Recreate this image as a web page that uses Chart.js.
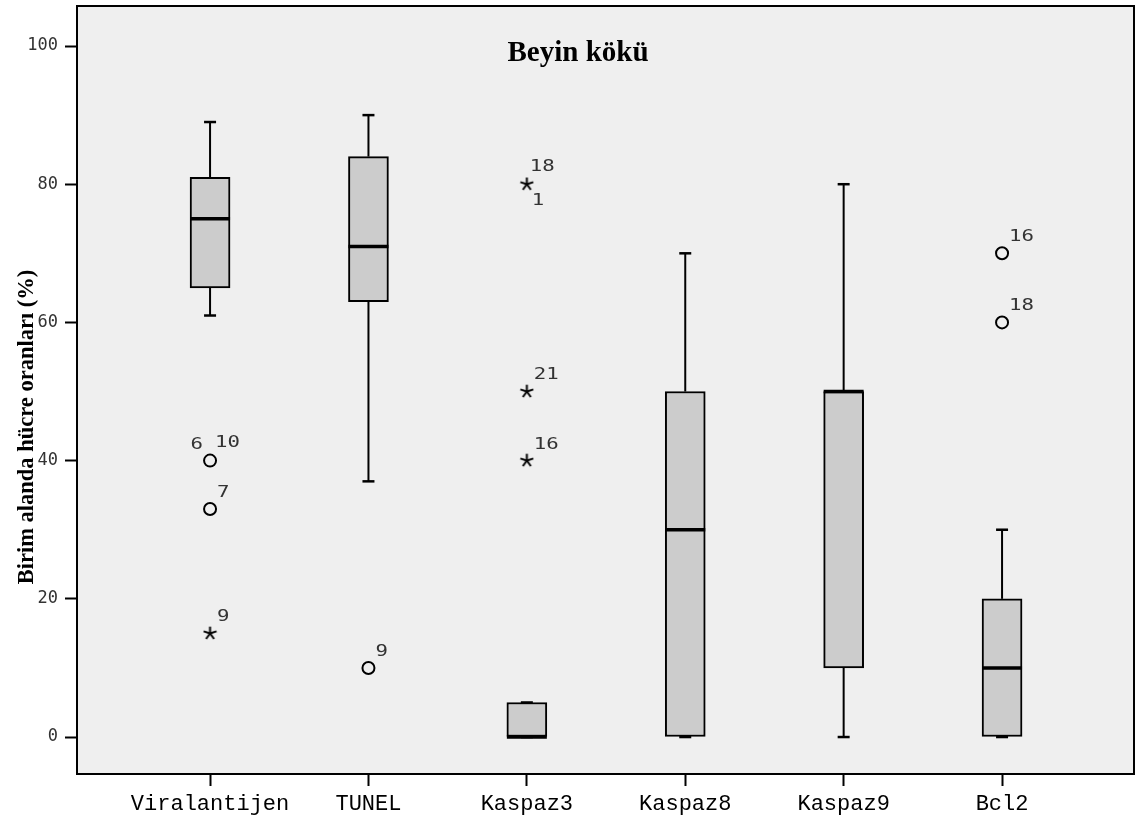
<!DOCTYPE html>
<html>
<head>
<meta charset="utf-8">
<script src="https://cdn.jsdelivr.net/npm/chart.js@4.4.1/dist/chart.umd.min.js"></script>
<style>
  html, body { margin: 0; padding: 0; background: #ffffff; }
  #wrap { width: 1135px; height: 822px; position: relative; }
</style>
</head>
<body>
<div id="wrap"><canvas id="c" width="1135" height="822"></canvas></div>
<script>
// ---- data ----
const chartTitle = 'Beyin kökü';
const yAxisTitle = 'Birim alanda hücre oranları (%)';
const categories = ['Viralantijen', 'TUNEL', 'Kaspaz3', 'Kaspaz8', 'Kaspaz9', 'Bcl2'];
const whiskerLow  = [61, 37, 0, 0, 0, 0];
const quartile1   = [65, 63, 0, 0, 10, 0];
const medians     = [75, 71, 0, 30, 50, 10];
const quartile3   = [81, 84, 5, 50, 50, 20];
const whiskerHigh = [89, 90, 5, 70, 80, 30];
// outliers (circle) : category index (1-based), value, case labels
const circleCat    = [1, 1, 2, 6, 6];
const circleValue  = [40, 33, 10, 70, 60];
const circleLabels = [['6', '10'], ['7'], ['9'], ['16'], ['18']];
// extremes (star)
const starCat    = [1, 3, 3, 3];
const starValue  = [15, 80, 50, 40];
const starLabels = [['9'], ['18', '1'], ['21'], ['16']];
const yTicks = [0, 20, 40, 60, 80, 100];

// ---- star marker image ----
function makeStar() {
  const c = document.createElement('canvas');
  c.width = 15; c.height = 15;
  const g = c.getContext('2d');
  g.strokeStyle = '#000';
  g.lineWidth = 2;
  g.lineCap = 'butt';
  const cx = 7.5, cy = 7.5, r = 6.8;
  for (let k = 0; k < 5; k++) {
    const a = -Math.PI / 2 + k * 2 * Math.PI / 5;
    g.beginPath();
    g.moveTo(cx, cy);
    g.lineTo(cx + r * Math.cos(a), cy + r * Math.sin(a));
    g.stroke();
  }
  return c;
}
const starImg = makeStar();

const boxData = categories.map((c, i) => ({ x: i + 1, y: [quartile1[i], quartile3[i]] }));
const circleData = circleCat.map((c, i) => ({ x: c, y: circleValue[i] }));
const starData = starCat.map((c, i) => ({ x: c, y: starValue[i] }));

// draw a horizontally widened monospace label (the reference digits are wide)
function wideText(ctx, text, x, y, align) {
  const sx = 1.38;
  const w = ctx.measureText(text).width * sx;
  const left = align === 'right' ? x - w : x;
  ctx.save();
  ctx.translate(left, y);
  ctx.scale(sx, 1);
  ctx.textAlign = 'left';
  ctx.fillText(text, 0, 0);
  ctx.restore();
}

const boxPlugin = {
  id: 'boxExtras',
  beforeDraw(chart) {
    const { ctx, chartArea: a } = chart;
    ctx.save();
    ctx.fillStyle = '#efefef';
    ctx.fillRect(a.left, a.top, a.right - a.left, a.bottom - a.top);
    ctx.restore();
  },
  beforeDatasetsDraw(chart) {
    // whiskers
    const { ctx } = chart;
    const xs = chart.scales.x, ys = chart.scales.y;
    ctx.save();
    ctx.strokeStyle = '#000';
    ctx.lineWidth = 2;
    categories.forEach((c, i) => {
      const px = xs.getPixelForValue(i + 1);
      const segs = [[quartile3[i], whiskerHigh[i]], [quartile1[i], whiskerLow[i]]];
      segs.forEach(([from, to]) => {
        const y0 = ys.getPixelForValue(from), y1 = ys.getPixelForValue(to);
        ctx.beginPath();
        ctx.moveTo(px, y0); ctx.lineTo(px, y1); ctx.stroke();
      });
    });
    ctx.restore();
  },
  afterDatasetsDraw(chart) {
    const { ctx } = chart;
    const xs = chart.scales.x, ys = chart.scales.y;
    ctx.save();
    ctx.strokeStyle = '#000';
    // caps
    ctx.lineWidth = 2.5;
    categories.forEach((c, i) => {
      const px = xs.getPixelForValue(i + 1);
      [whiskerHigh[i], whiskerLow[i]].forEach(v => {
        const py = ys.getPixelForValue(v);
        ctx.beginPath();
        ctx.moveTo(px - 6, py); ctx.lineTo(px + 6, py); ctx.stroke();
      });
    });
    // medians
    const meta = chart.getDatasetMeta(0);
    ctx.lineWidth = 3.5;
    meta.data.forEach((bar, i) => {
      const w = bar.width;
      const py = ys.getPixelForValue(medians[i]);
      ctx.beginPath();
      ctx.moveTo(bar.x - w / 2, py); ctx.lineTo(bar.x + w / 2, py); ctx.stroke();
    });
    // outlier case labels
    ctx.fillStyle = '#333';
    ctx.font = '15px "DejaVu Sans Mono"';
    ctx.textBaseline = 'middle';
    const drawLabels = (cats, vals, labs, isCircle) => {
      cats.forEach((c, i) => {
        const px = xs.getPixelForValue(c), py = ys.getPixelForValue(vals[i]);
        const L = labs[i];
        if (L.length === 1) {
          wideText(ctx, L[0], px + 7, py - 16, 'left');
        } else if (isCircle) {
          wideText(ctx, L[0], px - 7, py - 16, 'right');
          wideText(ctx, L[1], px + 5, py - 18, 'left');
        } else {
          wideText(ctx, L[0], px + 3, py - 17, 'left');
          wideText(ctx, L[1], px + 5, py + 17, 'left');
        }
      });
    };
    drawLabels(circleCat, circleValue, circleLabels, true);
    drawLabels(starCat, starValue, starLabels, false);
    ctx.restore();
  },
  afterDraw(chart) {
    const { ctx, chartArea: a } = chart;
    ctx.save();
    ctx.strokeStyle = '#000';
    ctx.lineWidth = 2;
    ctx.strokeRect(a.left, a.top, a.right - a.left, a.bottom - a.top);
    // chart title
    ctx.fillStyle = '#000';
    ctx.font = 'bold 29px "Liberation Serif"';
    ctx.textAlign = 'center';
    ctx.textBaseline = 'alphabetic';
    ctx.fillText(chartTitle, 578, 61);
    // y axis title
    ctx.translate(27, 427);
    ctx.rotate(-Math.PI / 2);
    ctx.font = 'bold 22.5px "Liberation Serif"';
    ctx.textBaseline = 'middle';
    ctx.fillText(yAxisTitle, 0, 0);
    ctx.restore();
  }
};

new Chart(document.getElementById('c'), {
  type: 'bar',
  data: {
    datasets: [
      {
        type: 'bar',
        data: boxData,
        backgroundColor: '#cccccc',
        borderColor: '#000',
        borderWidth: 2,
        borderSkipped: false,
        barThickness: 40,
        grouped: false,
        order: 2
      },
      {
        type: 'scatter',
        data: circleData,
        pointStyle: 'circle',
        pointRadius: 6,
        borderColor: '#000',
        borderWidth: 2,
        backgroundColor: 'rgba(0,0,0,0)',
        order: 1
      },
      {
        type: 'scatter',
        data: starData,
        pointStyle: starImg,
        pointRadius: 7,
        order: 1
      }
    ]
  },
  options: {
    responsive: false,
    animation: false,
    events: [],
    layout: { autoPadding: false, padding: { left: 0, top: 6, right: 1, bottom: 0 } },
    plugins: { legend: { display: false }, tooltip: { enabled: false }, title: { display: false } },
    scales: {
      x: {
        type: 'linear',
        offset: false,
        min: 0.16,
        max: 6.833,
        afterBuildTicks(scale) { scale.ticks = categories.map((c, i) => ({ value: i + 1 })); },
        afterFit(scale) { scale.height = 48; scale.paddingLeft = 0; scale.paddingRight = 0; },
        ticks: {
          autoSkip: false,
          maxRotation: 0,
          padding: 5,
          color: '#000',
          font: { family: '"Liberation Mono"', size: 22 },
          callback: (v) => categories[Math.round(v) - 1]
        },
        grid: { display: true, offset: false, drawOnChartArea: false, drawTicks: true, tickLength: 12, tickWidth: 2, tickColor: '#000' },
        border: { display: true, color: '#000', width: 2 }
      },
      y: {
        type: 'linear',
        min: -5.35,
        max: 105.79,
        afterBuildTicks(scale) { scale.ticks = yTicks.map(v => ({ value: v })); },
        afterFit(scale) { scale.width = 77; scale.paddingTop = 0; scale.paddingBottom = 0; },
        ticks: {
          padding: 7,
          color: '#333',
          font: { family: '"DejaVu Sans Mono"', size: 17 }
        },
        grid: { display: true, drawOnChartArea: false, drawTicks: true, tickLength: 12, tickWidth: 2, tickColor: '#000' },
        border: { display: true, color: '#000', width: 2 }
      }
    }
  },
  plugins: [boxPlugin]
});
</script>
</body>
</html>
